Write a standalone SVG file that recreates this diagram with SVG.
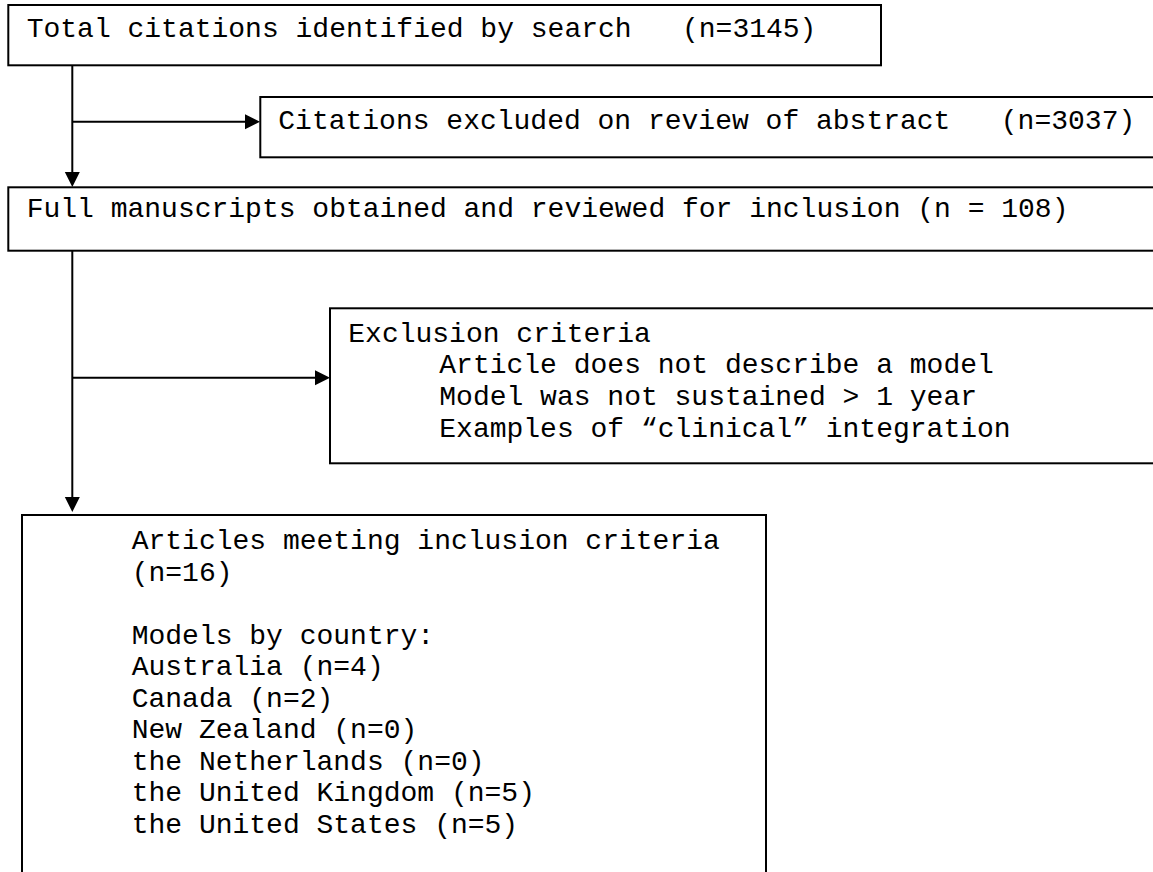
<svg xmlns="http://www.w3.org/2000/svg" width="1153" height="872" viewBox="0 0 1153 872">
<style>
.box{fill:#fff;stroke:#000;stroke-width:2}
.t{font-family:"Liberation Mono","Courier New",monospace;font-size:28px;fill:#000;white-space:pre}
.c{fill:none;stroke:#000;stroke-width:2}
</style>
<defs>
<marker id="ah" markerUnits="userSpaceOnUse" markerWidth="16" markerHeight="16" refX="0" refY="7.5" orient="auto" viewBox="0 0 16 16" overflow="visible">
<path d="M0,0 L15,7.5 L0,15 z" fill="#000"/>
</marker>
</defs>
<rect width="1153" height="872" fill="#fff"/>
<g id="connectors">
<path class="c" d="M72.3,65 L72.3,172" marker-end="url(#ah)"/>
<path class="c" d="M72.3,121.7 L245,121.7" marker-end="url(#ah)"/>
<path class="c" d="M72.3,250 L72.3,497" marker-end="url(#ah)"/>
<path class="c" d="M72.3,377.7 L315,377.7" marker-end="url(#ah)"/>
</g>
<g id="n1">
<rect class="box" x="8.3" y="5" width="872.7" height="60.3"/>
<text class="t" x="26.7" y="37" xml:space="preserve">Total citations identified by search   (n=3145)</text>
</g>
<g id="n2">
<rect class="box" x="260.3" y="97" width="910" height="60.3"/>
<text class="t" x="278.3" y="129" xml:space="preserve">Citations excluded on review of abstract   (n=3037)</text>
</g>
<g id="n3">
<rect class="box" x="8.3" y="187.3" width="1160" height="63.4"/>
<text class="t" x="26.7" y="217.3" xml:space="preserve">Full manuscripts obtained and reviewed for inclusion (n = 108)</text>
</g>
<g id="n4">
<rect class="box" x="330" y="308.3" width="840" height="155"/>
<text class="t" x="348.3" y="341.7">Exclusion criteria</text>
<text class="t" x="439.3" y="373.3">Article does not describe a model</text>
<text class="t" x="439.3" y="405">Model was not sustained &gt; 1 year</text>
<text class="t" x="439.3" y="436.7">Examples of “clinical” integration</text>
</g>
<g id="n5">
<rect class="box" x="22" y="515" width="744" height="380"/>
<text class="t" x="131.7" y="549.3">Articles meeting inclusion criteria</text>
<text class="t" x="131.7" y="580.7">(n=16)</text>
<text class="t" x="131.7" y="643.5">Models by country:</text>
<text class="t" x="131.7" y="675">Australia (n=4)</text>
<text class="t" x="131.7" y="706.5">Canada (n=2)</text>
<text class="t" x="131.7" y="738">New Zealand (n=0)</text>
<text class="t" x="131.7" y="769.5">the Netherlands (n=0)</text>
<text class="t" x="131.7" y="801">the United Kingdom (n=5)</text>
<text class="t" x="131.7" y="832.5">the United States (n=5)</text>
</g>
</svg>
